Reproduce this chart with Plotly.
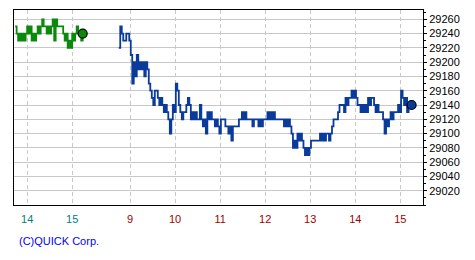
import plotly.graph_objects as go

# ---- data (2-minute steps) ----
prev_start_min = -153          # previous day 13:45 on the chart's minute axis
today_start_min = -15          # today 08:45 (09:00 = 0)
step_min = 2

prev_prices = [29250, 29240, 29230, 29240, 29230, 29240, 29230, 29240, 29250, 29240,
               29250, 29230, 29240, 29230, 29240, 29250, 29240, 29250, 29260, 29250,
               29250, 29240, 29250, 29240, 29250, 29260, 29230, 29260, 29250, 29250,
               29250, 29250, 29240, 29230, 29240, 29220, 29230, 29220, 29240, 29230,
               29240, 29250, 29240, 29240, 29230, 29240]

today_prices = [29220, 29250, 29240, 29230, 29230, 29240, 29240, 29230, 29210, 29170,
                29200, 29180, 29210, 29190, 29200, 29190, 29200, 29180, 29200, 29190,
                29170, 29160, 29150, 29140, 29160, 29160, 29150, 29140, 29150, 29140,
                29130, 29140, 29130, 29120, 29100, 29120, 29140, 29130, 29170, 29160,
                29140, 29130, 29120, 29130, 29130, 29140, 29150, 29140, 29120, 29130,
                29120, 29130, 29120, 29120, 29140, 29120, 29110, 29120, 29100, 29130,
                29120, 29130, 29120, 29120, 29110, 29120, 29110, 29100, 29120, 29120,
                29120, 29110, 29110, 29100, 29110, 29090, 29110, 29110, 29110, 29110,
                29120, 29120, 29130, 29120, 29130, 29120, 29120, 29120, 29120, 29110,
                29120, 29120, 29120, 29110, 29120, 29110, 29120, 29120, 29120, 29130,
                29120, 29130, 29120, 29130, 29120, 29120, 29120, 29120, 29120, 29120,
                29110, 29120, 29110, 29120, 29110, 29100, 29080, 29090, 29080, 29100,
                29090, 29100, 29090, 29080, 29070, 29080, 29070, 29080, 29090, 29090,
                29090, 29090, 29090, 29090, 29100, 29090, 29100, 29090, 29100, 29100,
                29090, 29100, 29110, 29120, 29120, 29120, 29130, 29140, 29140, 29140,
                29130, 29150, 29140, 29150, 29150, 29160, 29150, 29160, 29150, 29140,
                29140, 29130, 29140, 29130, 29140, 29130, 29150, 29140, 29150, 29150,
                29140, 29130, 29140, 29130, 29130, 29130, 29120, 29100, 29120, 29110,
                29120, 29130, 29120, 29130, 29130, 29130, 29140, 29130, 29160, 29150,
                29140, 29150, 29130, 29140, 29140, 29140]

prev_ticks = [14, 15]
today_ticks = [9, 10, 11, 12, 13, 14, 15]
y_ticks = list(range(29020, 29261, 20))

# ---- positions on a shared minute axis ----
prev_x = [prev_start_min + step_min * i for i in range(len(prev_prices))]
today_x = [today_start_min + step_min * i for i in range(len(today_prices))]
prev_tick_x = [(h - 15) * 60 - 77 for h in prev_ticks]
today_tick_x = [(h - 9) * 60 for h in today_ticks]

GREEN = "#0a8a0a"
BLUE = "#0a3a9a"
FONT = "Liberation Sans"

fig = go.Figure()
fig.add_trace(go.Scatter(x=prev_x, y=prev_prices, mode="lines",
                         line=dict(color=GREEN, width=1.8, shape="hv"),
                         hoverinfo="skip", showlegend=False))
fig.add_trace(go.Scatter(x=[prev_x[-1]], y=[prev_prices[-1]], mode="markers",
                         marker=dict(color=GREEN, size=9, line=dict(color="black", width=1.2)),
                         hoverinfo="skip", showlegend=False))
fig.add_trace(go.Scatter(x=today_x, y=today_prices, mode="lines",
                         line=dict(color=BLUE, width=1.8, shape="hv"),
                         hoverinfo="skip", showlegend=False))
fig.add_trace(go.Scatter(x=[today_x[-1]], y=[today_prices[-1]], mode="markers",
                         marker=dict(color=BLUE, size=9, line=dict(color="black", width=1.2)),
                         hoverinfo="skip", showlegend=False))

ticktext = ([f"<span style='color:#008080'>{h}</span>" for h in prev_ticks] +
            [f"<span style='color:#a00000'>{h}</span>" for h in today_ticks])

fig.update_layout(
    width=475, height=260,
    margin=dict(l=14, r=52, t=10, b=55),
    paper_bgcolor="white", plot_bgcolor="white",
    font=dict(family=FONT, size=11, color="black"),
    xaxis=dict(range=[-154.5, 390.2], tickmode="array",
               tickvals=prev_tick_x + today_tick_x, ticktext=ticktext,
               showgrid=True, gridcolor="#c8c8c8", gridwidth=1, griddash="4px,3px",
               showline=True, linecolor="black", linewidth=1, mirror=True,
               ticks="", zeroline=False, ticklabelstandoff=4,
               tickfont=dict(family=FONT, size=11)),
    yaxis=dict(range=[29000, 29273], side="right", tickmode="array",
               tickvals=y_ticks, ticktext=[str(v) for v in y_ticks],
               showgrid=True, gridcolor="#c8c8c8", gridwidth=1,
               showline=True, linecolor="black", linewidth=1, mirror=True,
               ticks="outside", ticklen=3, tickcolor="black",
               minor=dict(ticks="outside", ticklen=2, dtick=10, tickcolor="black", showgrid=False),
               zeroline=False, tickfont=dict(family=FONT, size=11)),
    annotations=[dict(text="(C)QUICK Corp.", xref="paper", yref="paper",
                      x=0.0073, y=-0.183, xanchor="left", yanchor="middle",
                      showarrow=False, font=dict(family=FONT, size=11, color="#0000ff"))],
)

fig.write_html("out.html")
